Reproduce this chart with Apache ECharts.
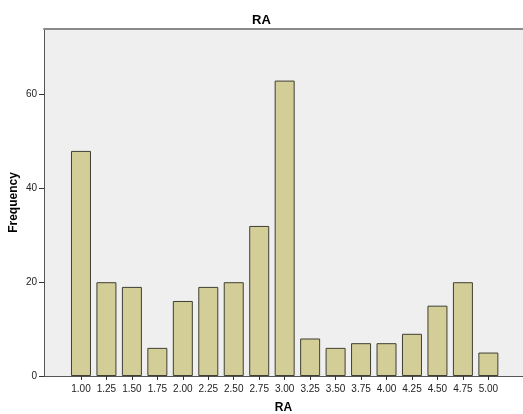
<!DOCTYPE html>
<html>
<head>
<meta charset="utf-8">
<script src="https://cdn.jsdelivr.net/npm/echarts@6/dist/echarts.min.js"></script>
<style>html,body{margin:0;padding:0;background:#fff;}#c{width:523px;height:414px;}</style>
</head>
<body>
<div id="c"></div>
<script>
const categories = ['1.00','1.25','1.50','1.75','2.00','2.25','2.50','2.75','3.00','3.25','3.50','3.75','4.00','4.25','4.50','4.75','5.00'];
const frequencies = [48, 20, 19, 6, 16, 19, 20, 32, 63, 8, 6, 7, 7, 9, 15, 20, 5];
const yTicks = [0, 20, 40, 60];
const titleText = 'RA';
const xName = 'RA';
const yName = 'Frequency';

const xVals = categories.map(parseFloat);
const seriesData = xVals.map((x, i) => [x, frequencies[i]]);
const font = 'Liberation Sans, Arial, sans-serif';

const chart = echarts.init(document.getElementById('c'), null, {renderer: 'canvas'});
chart.setOption({
  animation: false,
  backgroundColor: '#ffffff',
  title: {
    text: titleText, left: 'center', top: 9,
    textStyle: {fontFamily: font, fontSize: 13, fontWeight: 'bold', color: '#000'}
  },
  grid: {
    left: 44, right: 0, top: 29, bottom: 38,
    containLabel: false, outerBoundsMode: 'none',
    show: true, backgroundColor: '#efefef', borderWidth: 0
  },
  xAxis: [{
    type: 'value', min: 0.637, max: 5.34,
    name: xName, nameLocation: 'middle', nameGap: 26,
    nameTextStyle: {fontFamily: font, fontSize: 12, fontWeight: 'bold', color: '#000'},
    splitLine: {show: false},
    axisLine: {show: true, lineStyle: {color: '#555', width: 1}},
    axisTick: {show: true, customValues: xVals, length: 4, lineStyle: {color: '#333'}},
    axisLabel: {customValues: xVals, formatter: v => v.toFixed(2), margin: 8,
      fontFamily: font, fontSize: 10, color: '#222'}
  }, {
    type: 'value', position: 'top', min: 0, max: 1,
    axisLine: {show: true, lineStyle: {color: '#8a8a8a', width: 2}},
    axisTick: {show: false}, axisLabel: {show: false}, splitLine: {show: false}
  }],
  yAxis: {
    type: 'value', min: 0, max: 74,
    name: yName, nameLocation: 'middle', nameGap: 24, nameRotate: 90,
    nameMoveOverlap: false,
    nameTextStyle: {fontFamily: font, fontSize: 12, fontWeight: 'bold', color: '#000'},
    splitLine: {show: false},
    axisLine: {show: true, lineStyle: {color: '#555', width: 1}},
    axisTick: {show: true, customValues: yTicks, length: 5, lineStyle: {color: '#333'}},
    axisLabel: {customValues: yTicks, margin: 7, fontFamily: font, fontSize: 10, color: '#222'}
  },
  series: [{
    type: 'bar', xAxisIndex: 0, barWidth: 20,
    data: seriesData,
    itemStyle: {color: '#d3cd98', borderColor: '#3f3f33', borderWidth: 1}
  }]
});
</script>
</body>
</html>
